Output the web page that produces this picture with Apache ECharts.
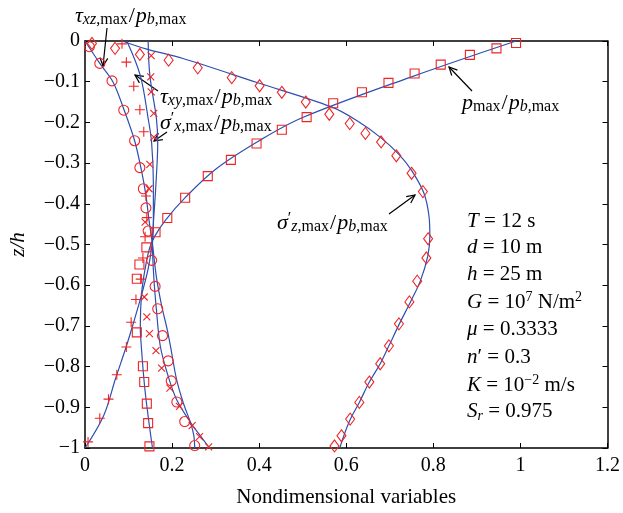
<!DOCTYPE html>
<html>
<head>
<meta charset="utf-8">
<script src="https://cdn.jsdelivr.net/npm/echarts@6/dist/echarts.min.js"></script>
<style>
  html, body {margin: 0; padding: 0; background: #fff;}
  #main {width: 623px; height: 513px;}
</style>
</head>
<body>
<div id="main"></div>
<script>
// tick labels
var xTicks = [0, 0.2, 0.4, 0.6, 0.8, 1, 1.2];
var yTicks = [0, -0.1, -0.2, -0.3, -0.4, -0.5, -0.6, -0.7, -0.8, -0.9, -1];

// markers (numerical results), [x, z/h]
var sigmaZMarks = [[0.016,-0.006],[0.069,-0.018],[0.126,-0.033],[0.192,-0.047],[0.259,-0.066],[0.337,-0.090],[0.401,-0.110],[0.452,-0.126],[0.507,-0.150],[0.561,-0.180],[0.608,-0.203],[0.644,-0.227],[0.680,-0.248],[0.715,-0.282],[0.750,-0.325],[0.776,-0.370],[0.788,-0.486],[0.784,-0.533],[0.763,-0.590],[0.745,-0.641],[0.721,-0.695],[0.698,-0.749],[0.678,-0.793],[0.653,-0.838],[0.630,-0.888],[0.609,-0.929],[0.589,-0.970],[0.573,-0.995]];
var pMaxMarks = [[0.990,-0.005],[0.945,-0.018],[0.884,-0.034],[0.817,-0.058],[0.757,-0.080],[0.697,-0.103],[0.636,-0.126],[0.570,-0.153],[0.509,-0.187],[0.452,-0.218],[0.394,-0.252],[0.335,-0.292],[0.282,-0.332],[0.230,-0.385],[0.189,-0.435],[0.162,-0.470],[0.141,-0.507],[0.125,-0.549],[0.119,-0.584],[0.119,-0.716],[0.133,-0.799],[0.136,-0.838],[0.142,-0.891],[0.145,-0.939],[0.148,-0.996]];
var tauXzMarks = [[0.010,-0.014],[0.034,-0.055],[0.062,-0.098],[0.089,-0.170],[0.114,-0.245],[0.126,-0.311],[0.134,-0.363],[0.140,-0.410],[0.145,-0.467],[0.153,-0.539],[0.161,-0.603],[0.167,-0.658],[0.178,-0.724],[0.191,-0.786],[0.198,-0.835],[0.211,-0.887],[0.229,-0.935],[0.252,-0.994]];
var tauXyMarks = [[0.085,-0.007],[0.095,-0.052],[0.112,-0.111],[0.126,-0.169],[0.135,-0.223],[0.140,-0.381],[0.142,-0.434],[0.138,-0.481],[0.133,-0.533],[0.128,-0.585],[0.117,-0.635],[0.106,-0.691],[0.095,-0.752],[0.073,-0.820],[0.054,-0.880],[0.034,-0.927],[0.007,-0.985]];
var sigmaXMarks = [[0.152,-0.036],[0.151,-0.088],[0.152,-0.125],[0.158,-0.178],[0.158,-0.236],[0.149,-0.303],[0.147,-0.363],[0.138,-0.445],[0.136,-0.629],[0.142,-0.678],[0.148,-0.719],[0.163,-0.761],[0.176,-0.804],[0.195,-0.853],[0.217,-0.898],[0.246,-0.945],[0.263,-0.972],[0.284,-0.997]];

// curves (analytical solution), [x, z/h]
var sigmaZLine = [[0.085,0],[0.142,-0.02],[0.225,-0.043],[0.395,-0.102],[0.566,-0.162],[0.625,-0.196],[0.680,-0.238],[0.722,-0.280],[0.750,-0.318],[0.778,-0.373],[0.790,-0.430],[0.792,-0.480],[0.787,-0.530],[0.770,-0.590],[0.748,-0.640],[0.722,-0.695],[0.698,-0.749],[0.678,-0.793],[0.653,-0.838],[0.630,-0.888],[0.607,-0.935],[0.585,-1]];
var pMaxLine = [[0.990,0],[0.750,-0.088],[0.500,-0.188],[0.400,-0.245],[0.300,-0.315],[0.230,-0.385],[0.185,-0.440],[0.160,-0.480],[0.148,-0.510],[0.138,-0.560],[0.130,-0.620],[0.127,-0.700],[0.130,-0.760],[0.137,-0.850],[0.146,-0.930],[0.155,-1]];
var tauXzLine = [[0,0],[0.034,-0.055],[0.064,-0.100],[0.090,-0.170],[0.114,-0.245],[0.130,-0.320],[0.140,-0.380],[0.147,-0.440],[0.155,-0.500],[0.164,-0.580],[0.176,-0.650],[0.189,-0.710],[0.198,-0.760],[0.210,-0.830],[0.226,-0.890],[0.243,-0.940],[0.250,-0.970],[0.252,-1]];
var tauXyLine = [[0.096,0],[0.127,-0.085],[0.145,-0.190],[0.153,-0.250],[0.157,-0.350],[0.157,-0.450],[0.154,-0.500],[0.145,-0.560],[0.130,-0.623],[0.112,-0.690],[0.095,-0.750],[0.070,-0.830],[0.043,-0.920],[0,-1]];
var sigmaXLine = [[0.145,0],[0.149,-0.085],[0.164,-0.190],[0.167,-0.250],[0.163,-0.350],[0.157,-0.450],[0.155,-0.500],[0.158,-0.580],[0.164,-0.660],[0.173,-0.750],[0.190,-0.820],[0.210,-0.880],[0.244,-0.940],[0.265,-0.970],[0.286,-1]];

var FONT = 'Liberation Serif';
var BLUE = '#2d4fb0';
var RED = '#ee2424';

function lineSeries(data) {
  return {
    type: 'line', data: data, showSymbol: false, smooth: 0.35,
    lineStyle: {color: BLUE, width: 1.2}, z: 2, silent: true
  };
}
function markSeries(data, symbol, size) {
  return {
    type: 'scatter', data: data, symbol: symbol, symbolSize: size,
    itemStyle: {color: 'rgba(0,0,0,0)', borderColor: RED, borderWidth: 1.1, opacity: 1},
    z: 3, silent: true
  };
}

// rich text styles for labels with sub/superscripts
var rich = {
  i: {fontFamily: FONT, fontStyle: 'italic', fontSize: 22, lineHeight: 24, fill: '#000'},
  n: {fontFamily: FONT, fontSize: 22, lineHeight: 24, fill: '#000', padding: [0, 1, 0, 1]},
  si: {fontFamily: FONT, fontStyle: 'italic', fontSize: 16, lineHeight: 16, verticalAlign: 'bottom', fill: '#000'},
  sr: {fontFamily: FONT, fontSize: 16, lineHeight: 16, verticalAlign: 'bottom', fill: '#000'},
  up: {fontFamily: FONT, fontSize: 16, lineHeight: 16, verticalAlign: 'top', fill: '#000'}
};
// parameter block, a bit smaller
var richP = {
  i: {fontFamily: FONT, fontStyle: 'italic', fontSize: 21, lineHeight: 24, fill: '#000'},
  n: {fontFamily: FONT, fontSize: 21, lineHeight: 24, fill: '#000'},
  si: {fontFamily: FONT, fontStyle: 'italic', fontSize: 14, lineHeight: 14, verticalAlign: 'bottom', fill: '#000'},
  up: {fontFamily: FONT, fontSize: 14, lineHeight: 14, verticalAlign: 'top', fill: '#000'}
};

function label(x, y, text, r) {
  return {type: 'text', x: x, y: y, z: 10, style: {text: text, rich: r || rich, verticalAlign: 'middle', fill: '#000'}};
}

function arrow(x1, y1, x2, y2) {
  var a = Math.atan2(y2 - y1, x2 - x1), L = 9, w = 0.45;
  return {
    type: 'group', z: 10, children: [
      {type: 'line', shape: {x1: x1, y1: y1, x2: x2, y2: y2}, style: {stroke: '#000', lineWidth: 1.2}},
      {type: 'polyline', shape: {points: [
        [x2 - L * Math.cos(a - w), y2 - L * Math.sin(a - w)], [x2, y2],
        [x2 - L * Math.cos(a + w), y2 - L * Math.sin(a + w)]]},
        style: {stroke: '#000', lineWidth: 1.2, fill: null}}
    ]
  };
}

var minus = function (v) { return v < 0 ? '\u2212' + Math.abs(v) : String(v); };

var axisBase = {
  axisLine: {show: true, onZero: false, lineStyle: {color: '#000', width: 1.5}},
  axisTick: {show: true, inside: true, length: 5, lineStyle: {color: '#000', width: 1}},
  splitLine: {show: false}
};

var option = {
  animation: false,
  backgroundColor: '#fff',
  grid: {left: 81, right: 14, top: 41, bottom: 65},
  xAxis: [
    Object.assign({
      type: 'value', min: xTicks[0], max: xTicks[xTicks.length - 1], interval: 0.2, position: 'bottom',
      name: 'Nondimensional variables', nameLocation: 'middle', nameGap: 39,
      nameTextStyle: {fontFamily: FONT, fontSize: 21, color: '#000'},
      axisLabel: {fontFamily: FONT, fontSize: 20, color: '#000', margin: 8, formatter: minus}
    }, axisBase),
    Object.assign({
      type: 'value', min: xTicks[0], max: xTicks[xTicks.length - 1], interval: 0.2, position: 'top',
      axisLabel: {show: false}
    }, axisBase)
  ],
  yAxis: [
    Object.assign({
      type: 'value', min: yTicks[yTicks.length - 1], max: yTicks[0], interval: 0.1, position: 'left',
      name: 'z/h', nameLocation: 'middle', nameGap: 56, nameRotate: 90,
      nameTextStyle: {fontFamily: FONT, fontStyle: 'italic', fontSize: 21, color: '#000'},
      axisLabel: {fontFamily: FONT, fontSize: 20, color: '#000', margin: 5, formatter: minus}
    }, axisBase),
    Object.assign({
      type: 'value', min: yTicks[yTicks.length - 1], max: yTicks[0], interval: 0.1, position: 'right',
      axisLabel: {show: false}
    }, axisBase)
  ],
  series: [
    lineSeries(sigmaZLine),
    lineSeries(pMaxLine),
    lineSeries(tauXzLine),
    lineSeries(tauXyLine),
    lineSeries(sigmaXLine),
    markSeries(sigmaZMarks, 'diamond', [9, 12]),
    markSeries(pMaxMarks, 'rect', 9),
    markSeries(tauXzMarks, 'circle', 10),
    markSeries(tauXyMarks, 'path://M5,0L5,10M0,5L10,5', 10),
    markSeries(sigmaXMarks, 'path://M0,0L10,10M10,0L0,10', 7)
  ],
  graphic: [
    label(75, 16, '{i|τ}{si|xz}{sr|,max}{n|/}{i|p}{si|b}{sr|,max}'),
    arrow(107, 28, 103, 66),
    label(160, 97, '{i|τ}{si|xy}{sr|,max}{n|/}{i|p}{si|b}{sr|,max}'),
    arrow(158, 91, 135, 75),
    label(160, 123, '{i|σ}{up|′}{si|x}{sr|,max}{n|/}{i|p}{si|b}{sr|,max}'),
    arrow(167, 132, 154, 141),
    label(462, 103, '{i|p}{sr|max}{n|/}{i|p}{si|b}{sr|,max}'),
    arrow(472, 91, 449, 67),
    label(277, 223, '{i|σ}{up|′}{si|z}{sr|,max}{n|/}{i|p}{si|b}{sr|,max}'),
    arrow(389, 214, 415, 195),
    label(467, 221, '{i|T}{n| = 12 s}', richP),
    label(467, 247, '{i|d}{n| = 10 m}', richP),
    label(467, 274, '{i|h}{n| = 25 m}', richP),
    label(467, 302, '{i|G}{n| = 10}{up|7}{n| N/m}{up|2}', richP),
    label(467, 329, '{i|μ}{n| = 0.3333}', richP),
    label(467, 357, '{i|n}{n|′ = 0.3}', richP),
    label(467, 385, '{i|K}{n| = 10}{up|−2}{n| m/s}', richP),
    label(467, 411, '{i|S}{si|r}{n| = 0.975}', richP)
  ]
};

var chart = echarts.init(document.getElementById('main'), null, {renderer: 'canvas'});
chart.setOption(option);
</script>
</body>
</html>
